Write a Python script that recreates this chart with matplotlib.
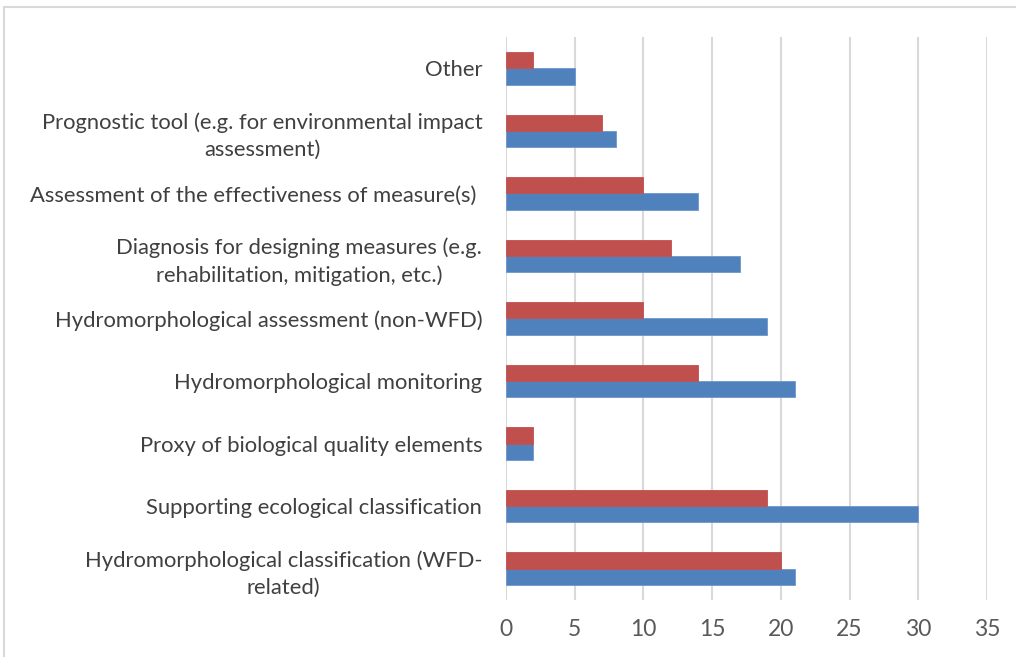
import matplotlib.pyplot as plt
import numpy as np
from matplotlib.patches import Rectangle

# categories, bottom to top
categories = [
    'Hydromorphological classification (WFD-\nrelated)',
    'Supporting ecological classification',
    'Proxy of biological quality elements',
    'Hydromorphological monitoring',
    'Hydromorphological assessment (non-WFD)',
    'Diagnosis for designing measures (e.g.\nrehabilitation, mitigation, etc.)',
    'Assessment of the effectiveness of measure(s) ',
    'Prognostic tool (e.g. for environmental impact\nassessment)',
    'Other',
]
blue_vals = [21, 30, 2, 21, 19, 17, 14, 8, 5]
red_vals = [20, 19, 2, 14, 10, 12, 10, 7, 2]
xticks = [0, 5, 10, 15, 20, 25, 30, 35]

plt.rcParams['font.family'] = ['Lato', 'DejaVu Sans']

fig = plt.figure(figsize=(10.16, 6.57), dpi=100)
ax = fig.add_axes([0.498, 0.0868, 0.4735, 0.8569])

# light frame round the chart area
fig.patches.append(Rectangle((4 / 1016, -0.1), 1.2, 1.1 - 7 / 657, transform=fig.transFigure,
                             fill=False, edgecolor='#d9d9d9', linewidth=1.5))

y = np.arange(len(categories))
h = 0.26
ax.barh(y - h / 2, blue_vals, height=h, color='#4f81bd', edgecolor='#6d97cc', linewidth=0.6, zorder=3)
ax.barh(y + h / 2, red_vals, height=h, color='#c0504d', edgecolor='#c0504d', linewidth=0.6, zorder=3)

ax.set_xlim(0, 35)
ax.set_ylim(-0.5, len(categories) - 0.5)
ax.set_xticks(xticks)
ax.set_yticks(y)
ax.set_yticklabels(categories, multialignment='center', linespacing=1.45)
ax.tick_params(axis='both', length=0, labelsize=15.8, colors='#404040')
ax.tick_params(axis='y', pad=17)
ax.tick_params(axis='x', pad=14, labelsize=16.5, labelcolor='#595959')
ax.xaxis.grid(True, color='#d9d9d9', linewidth=1.5, zorder=0)
for s in ax.spines.values():
    s.set_visible(False)

plt.savefig('out.png', dpi=100)
